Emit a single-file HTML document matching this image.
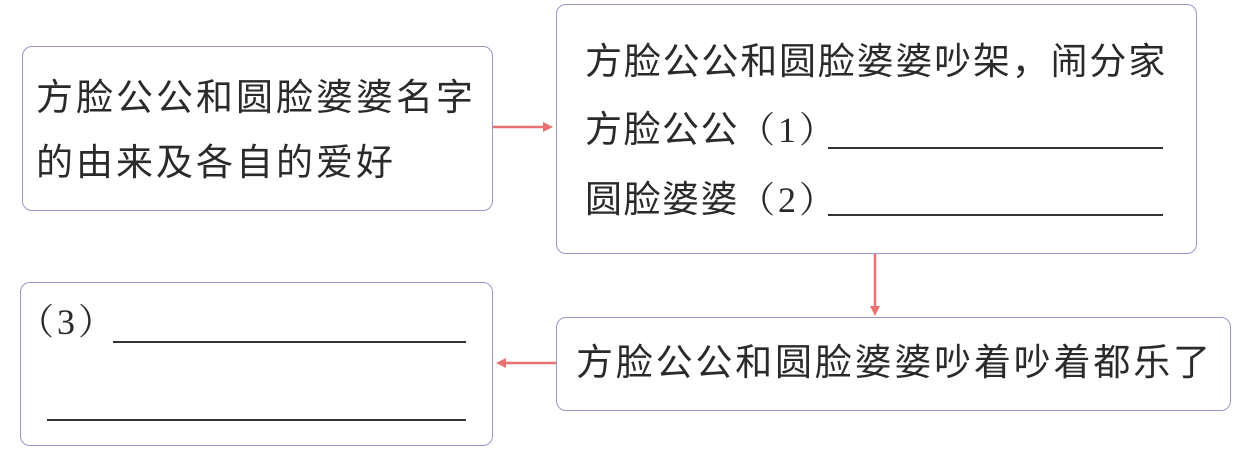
<!DOCTYPE html>
<html><head><meta charset="utf-8"><style>
body{margin:0;width:1238px;height:449px;background:#fff;position:relative;overflow:hidden;font-family:"Liberation Sans","Noto Sans CJK SC",sans-serif;color:#2a2a2a}
.b{position:absolute;border:1.5px solid #9a98c8;border-radius:10px;box-sizing:border-box}
.t{position:absolute;font-size:37px;line-height:40px;white-space:nowrap;letter-spacing:3px}
.s{font-family:"Liberation Serif","Noto Serif CJK SC",serif;font-size:36px;letter-spacing:3px}
.u{position:absolute;height:2px;background:#333}
</style></head><body>
<div class="b" style="left:22px;top:46px;width:471px;height:165px"></div>
<div class="b" style="left:556px;top:4px;width:641px;height:250px"></div>
<div class="b" style="left:20px;top:282px;width:473px;height:164px"></div>
<div class="b" style="left:556px;top:317px;width:675px;height:94px"></div>
<div class="t" style="left:36px;top:78px">方脸公公和圆脸婆婆名字</div>
<div class="t" style="left:36px;top:143px">的由来及各自的爱好</div>
<div class="t" style="left:585px;top:42px;letter-spacing:1.8px">方脸公公和圆脸婆婆吵架，闹分家</div>
<div class="t" style="left:585px;top:110px;letter-spacing:1.5px">方脸公公<span class="s">（1）</span></div>
<div class="t" style="left:585px;top:180px;letter-spacing:1.5px">圆脸婆婆<span class="s">（2）</span></div>
<div class="u" style="left:828px;top:147px;width:335px"></div>
<div class="u" style="left:828px;top:214px;width:335px"></div>
<div class="t s" style="left:18px;top:302px">（3）</div>
<div class="u" style="left:113px;top:341px;width:353px"></div>
<div class="u" style="left:47px;top:419px;width:419px"></div>
<div class="t" style="left:576px;top:343px;letter-spacing:2.8px">方脸公公和圆脸婆婆吵着吵着都乐了</div>
<svg width="1238" height="449" style="position:absolute;left:0;top:0">
<g stroke="#e87272" stroke-width="2.5" fill="#e87272">
<line x1="493" y1="127" x2="545" y2="127"/><polygon points="553,127 543,122 543,132" stroke="none"/>
<line x1="875" y1="254" x2="875" y2="308"/><polygon points="875,316 870,306 880,306" stroke="none"/>
<line x1="556" y1="363" x2="504" y2="363"/><polygon points="496,363 506,358 506,368" stroke="none"/>
</g></svg>
</body></html>
